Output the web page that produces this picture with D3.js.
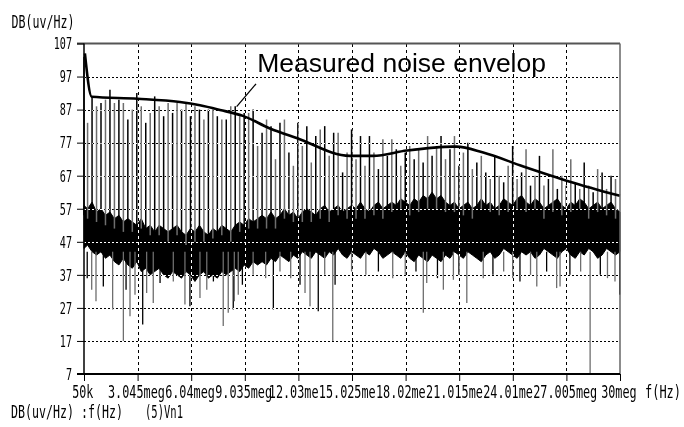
<!DOCTYPE html>
<html>
<head>
<meta charset="utf-8">
<script src="https://d3js.org/d3.v7.min.js"></script>
<style>
    body { margin: 0; background: #fff; }
    svg { display: block; }
    .mono { font-family: "DejaVu Sans Mono", monospace; fill: #000; }
</style>
</head>
<body>
<div id="chart"></div>
<script>
    // axis ticks (labels as printed, later ones cut the "g" of the one before)
    const xTicks = [0.05, 3.045, 6.04, 9.035, 12.03, 15.025, 18.02, 21.015, 24.01, 27.005, 30];
    const xTickLabels = ["50k", "3.045meg", "6.04meg", "9.035meg", "12.03me", "15.025me",
        "18.02me", "21.015me", "24.01me", "27.005meg", "30meg"];
    const yTicks = [7, 17, 27, 37, 47, 57, 67, 77, 87, 97, 107];

    // measured noise envelope (MHz, dB)
    const envFreq = [0.1, 0.48, 3.05, 5.41, 6.53, 7.65, 8.93, 10.44, 11.93, 14.91, 16.2, 18.08, 20.67, 20.87, 22.36, 24.6, 27.2, 30];
    const envDb = [104, 90.9, 90.3, 89.3, 88.3, 86.9, 85.1, 81.3, 78.4, 73.0, 73.0, 74.6, 75.8, 75.8, 74.0, 69.8, 65.2, 60.9];

    // noise floor, one sample every 0.25 MHz (top / bottom of the dense trace)
    const bandStep = 0.25;
    const bandHi = [58, 57, 59, 56, 57, 55, 56, 54, 55, 53,
        54, 53, 52, 54, 51, 52, 50, 52, 51, 50,
        51, 52, 50, 49, 51, 50, 52, 50, 49, 51,
        50, 52, 51, 50, 52, 53, 52, 54, 53, 54,
        55, 54, 56, 54, 55, 57, 55, 56, 54, 56,
        57, 56, 55, 57, 58, 56, 57, 58, 56, 57,
        58, 57, 59, 57, 56, 58, 59, 57, 58, 59,
        58, 60, 59, 58, 60, 59, 61, 60, 62, 60,
        61, 59, 58, 59, 57, 58, 59, 57, 58, 60,
        58, 59, 57, 58, 60, 59, 58, 60, 61, 59,
        58, 60, 59, 57, 58, 59, 60, 58, 57, 59,
        58, 60, 59, 57, 58, 59, 57, 58, 59, 57, 56];
    const bandLo = [45, 46, 44, 43, 44, 42, 43, 41, 40, 42,
        40, 39, 41, 38, 39, 37, 38, 39, 37, 36,
        38, 37, 36, 38, 37, 35, 37, 38, 36, 37,
        36, 38, 37, 38, 39, 38, 40, 39, 41, 40,
        41, 40, 42, 41, 43, 42, 41, 43, 42, 44,
        43, 42, 44, 43, 42, 44, 43, 45, 43, 42,
        44, 43, 42, 44, 43, 45, 44, 42, 43, 44,
        43, 42, 44, 42, 41, 43, 42, 41, 43, 42,
        41, 43, 42, 44, 43, 42, 44, 43, 42, 41,
        43, 44, 42, 43, 45, 44, 43, 42, 44, 43,
        44, 42, 43, 45, 44, 43, 42, 44, 45, 43,
        42, 44, 43, 45, 44, 42, 43, 45, 44, 43, 44];

    // switching harmonics, one every 0.25 MHz (peak dB)
    const spikePeak = [103, 83, 91, 88, 89, 90, 93, 89, 90, 89, 84,
        87, 92, 88, 83, 86, 91, 88, 85, 89, 86,
        89, 87, 89, 85, 88, 87, 84, 87, 87, 85,
        84, 84, 88, 88, 85, 86, 86, 87, 76, 80,
        84, 82, 72, 83, 84, 74, 70, 83, 76, 82,
        71, 79, 81, 82, 73, 80, 80, 68, 74, 81,
        72, 79, 70, 79, 74, 69, 78, 73, 78, 75,
        70, 74, 76, 72, 75, 71, 79, 73, 76, 79,
        72, 75, 79, 70, 74, 77, 69, 71, 73, 68,
        66, 73, 67, 65, 70, 76, 66, 68, 75, 64,
        67, 73, 64, 66, 75, 63, 67, 64, 72, 65,
        63, 71, 64, 62, 69, 68, 63, 67, 66];

    // downward dips of the noise trace (MHz, dB)
    const dipFreq = [0.23, 0.48, 0.72, 1.13, 1.65, 2.25, 2.40, 2.62, 2.90, 3.33, 3.55, 3.92, 4.30, 5.04, 5.69, 5.97,
        6.53, 6.91, 7.28, 7.83, 8.11, 8.39, 8.45, 8.67, 8.90, 9.5, 10.2, 10.63, 11.0, 11.6, 12.12, 12.40,
        12.68, 13.14, 13.5, 13.95, 14.08, 15.0, 15.8, 16.5, 17.3, 18.0, 18.6, 19.01, 19.20, 19.8, 20.13, 20.69,
        21.0, 21.44, 22.36, 22.9, 23.5, 24.0, 24.41, 25.0, 25.35, 25.9, 26.46, 26.65, 27.2, 27.8, 28.33, 28.9,
        29.3, 29.72, 29.98];
    const dipDb = [36, 32.5, 29, 33.5, 26.5, 17, 32.5, 24.5, 31, 22, 31.5, 28.5, 34.5, 35, 28, 27.5,
        30, 32.5, 35, 21.5, 25.5, 26.5, 29, 31, 34, 37, 36, 26.5, 38, 36, 34, 31.5,
        27.5, 26, 37, 17, 34, 38, 37, 38, 36, 37, 38, 25.5, 34.5, 36, 32.5, 35.5,
        37, 28.5, 36, 37, 38, 36, 35, 37, 33.5, 38, 33, 33.5, 37, 38, 7, 37,
        36, 35, 31];

    const annotation = {text: "Measured noise envelop", f: 9.73, db: 98.5,
        lineFrom: [9.66, 94.8], lineTo: [8.58, 87.9]};

    const W = 684, H = 427;
    const plot = {left: 84, right: 620, top: 43.5, bottom: 374};
    const charW = 7.15;

    const x = d3.scaleLinear().domain([0.05, 30]).range([plot.left, plot.right]);
    const y = d3.scaleLinear().domain([7, 107]).range([plot.bottom, plot.top]);
    const fAt = i => Math.max(0.05, i * bandStep);

    const svg = d3.select("#chart").append("svg")
        .attr("width", W).attr("height", H);
    svg.append("rect").attr("width", W).attr("height", H).attr("fill", "#fff");

    // narrow plotter font: squeeze DejaVu Sans Mono to a given width
    function mono(str, px, py, size, width, anchor) {
        const sx = width / (str.length * size * 0.602);
        return svg.append("text")
            .attr("class", "mono")
            .attr("transform", `translate(${px},${py}) scale(${sx},1)`)
            .attr("font-size", size)
            .attr("text-anchor", anchor || "start")
            .text(str);
    }

    // dense noise floor
    const band = d3.area()
        .x((d, i) => x(fAt(i)))
        .y0((d, i) => y(bandLo[i]))
        .y1(d => y(d));
    svg.append("path")
        .attr("d", band(bandHi))
        .attr("fill", "#000")
        .attr("stroke", "#000")
        .attr("stroke-width", 1);

    // harmonics going up
    svg.append("g").selectAll("line")
        .data(spikePeak)
        .join("line")
        .attr("x1", (d, i) => x(fAt(i)))
        .attr("x2", (d, i) => x(fAt(i)))
        .attr("y1", (d, i) => y(bandHi[Math.min(i, bandHi.length - 1)] - 3))
        .attr("y2", d => y(d))
        .attr("stroke", (d, i) => i % 2 ? "#6e6e6e" : "#000")
        .attr("stroke-width", 1.5);

    // dips going down
    svg.append("g").selectAll("line")
        .data(dipDb)
        .join("line")
        .attr("x1", (d, i) => x(dipFreq[i]))
        .attr("x2", (d, i) => x(dipFreq[i]))
        .attr("y1", y(44))
        .attr("y2", d => y(d))
        .attr("stroke", (d, i) => i % 3 ? "#6e6e6e" : "#000")
        .attr("stroke-width", 1.3);

    // dotted grid, inverted where it crosses the trace
    const grid = svg.append("g")
        .style("mix-blend-mode", "difference")
        .attr("stroke", "#fff")
        .attr("stroke-width", 1)
        .attr("shape-rendering", "crispEdges");
    grid.selectAll(".h")
        .data(yTicks.slice(1, -1))
        .join("line")
        .attr("x1", plot.left).attr("x2", plot.right)
        .attr("y1", d => Math.round(y(d)) + 0.5).attr("y2", d => Math.round(y(d)) + 0.5)
        .attr("stroke-dasharray", "2,2");
    grid.selectAll(".v")
        .data(xTicks.slice(1, -1))
        .join("line")
        .attr("y1", plot.top).attr("y2", plot.bottom)
        .attr("x1", d => Math.round(x(d)) + 0.5).attr("x2", d => Math.round(x(d)) + 0.5)
        .attr("stroke-dasharray", "3,3");

    // envelope
    const env = d3.line()
        .x(d => x(d[0]))
        .y(d => y(d[1]))
        .curve(d3.curveMonotoneX);
    svg.append("path")
        .attr("d", env(envFreq.map((f, i) => [f, envDb[i]])))
        .attr("fill", "none")
        .attr("stroke", "#000")
        .attr("stroke-width", 2.6)
        .attr("stroke-linejoin", "round");

    // frame
    svg.append("line")
        .attr("x1", plot.left - 7).attr("x2", plot.right)
        .attr("y1", plot.top).attr("y2", plot.top)
        .attr("stroke", "#555").attr("stroke-width", 2);
    svg.append("line")
        .attr("x1", plot.right).attr("x2", plot.right)
        .attr("y1", plot.top).attr("y2", plot.bottom)
        .attr("stroke", "#666").attr("stroke-width", 1.5);
    svg.append("line")
        .attr("x1", plot.left).attr("x2", plot.left)
        .attr("y1", plot.top).attr("y2", plot.bottom)
        .attr("stroke", "#000").attr("stroke-width", 1.5);
    svg.append("line")
        .attr("x1", plot.left - 7).attr("x2", plot.right)
        .attr("y1", plot.bottom).attr("y2", plot.bottom)
        .attr("stroke", "#000").attr("stroke-width", 2);

    // y axis
    const yAxis = svg.append("g")
        .attr("transform", `translate(${plot.left},0)`)
        .call(d3.axisLeft(y).tickValues(yTicks).tickSize(7).tickSizeOuter(0).tickFormat(""));
    yAxis.select(".domain").remove();
    yAxis.selectAll("line").attr("stroke", "#000");
    yTicks.forEach(t => {
        mono(String(t), plot.left - 12, y(t) + 5.8, 16, String(t).length * 6.1, "end");
    });

    // x axis
    const xAxis = svg.append("g")
        .attr("transform", `translate(0,${plot.bottom})`)
        .call(d3.axisBottom(x).tickValues(xTicks).tickSize(7).tickSizeOuter(0).tickFormat(""));
    xAxis.select(".domain").remove();
    xAxis.selectAll("line").attr("stroke", "#000");
    xTicks.forEach((t, i) => {
        const lab = xTickLabels[i];
        const full = lab.endsWith("me") ? lab.length + 1 : lab.length;
        mono(lab, x(t) - 1 - full * charW / 2, 398, 17.5, lab.length * charW - 0.3, "start");
    });
    mono("f(Hz)", 645, 398, 17.5, 36, "start");

    // axis titles
    mono("DB(uv/Hz)", 11.5, 28, 17.5, 63, "start");
    mono("DB(uv/Hz) :f(Hz)", 11, 418, 17.5, 112, "start");
    mono("(5)Vn1", 145, 418, 17.5, 38, "start");

    // annotation
    svg.append("text")
        .attr("x", x(annotation.f)).attr("y", y(annotation.db))
        .attr("font-family", "'Liberation Sans', Arial, sans-serif")
        .attr("font-size", 26.5)
        .attr("fill", "#000")
        .text(annotation.text);
    svg.append("line")
        .attr("x1", x(annotation.lineFrom[0])).attr("y1", y(annotation.lineFrom[1]))
        .attr("x2", x(annotation.lineTo[0])).attr("y2", y(annotation.lineTo[1]))
        .attr("stroke", "#000").attr("stroke-width", 1.3);
</script>
</body>
</html>
